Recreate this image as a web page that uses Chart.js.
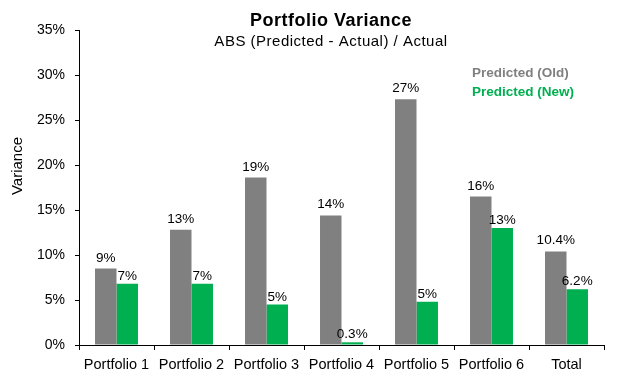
<!DOCTYPE html>
<html>
<head>
<meta charset="utf-8">
<script src="https://cdn.jsdelivr.net/npm/chart.js@4/dist/chart.umd.min.js"></script>
<style>
html,body{margin:0;padding:0;background:#fff;}
#wrap{width:619px;height:381px;}
</style>
</head>
<body>
<div id="wrap"><canvas id="c" width="619" height="381"></canvas></div>
<script>
const categories = ["Portfolio 1","Portfolio 2","Portfolio 3","Portfolio 4","Portfolio 5","Portfolio 6","Total"];
const oldValues = [8.5, 12.8, 18.6, 14.4, 27.3, 16.5, 10.4];
const newValues = [6.8, 6.8, 4.5, 0.3, 4.8, 13.0, 6.2];
const oldLabels = ["9%","13%","19%","14%","27%","16%","10.4%"];
const newLabels = ["7%","7%","5%","0.3%","5%","13%","6.2%"];
const yTicks = [0,5,10,15,20,25,30,35];
const titleText = "Portfolio Variance";
const subtitleText = "ABS (Predicted - Actual) / Actual";
const yTitleText = "Variance";
const seriesNames = ["Predicted (Old)","Predicted (New)"];

const GREY = "#808080", GREEN = "#00B050";
const FONT = "'Liberation Sans', Arial, sans-serif";

const overlay = {
  id: 'overlay',
  afterDatasetsDraw(chart) {
    const ctx = chart.ctx;
    ctx.save();
    ctx.font = "13.5px " + FONT;
    ctx.fillStyle = "#000";
    ctx.textAlign = "center";
    ctx.textBaseline = "alphabetic";
    const lbls = [oldLabels, newLabels];
    const gaps = [7, 4];
    chart.data.datasets.forEach((ds, di) => {
      const meta = chart.getDatasetMeta(di);
      meta.data.forEach((bar, i) => {
        ctx.fillText(lbls[di][i], bar.x, bar.y - gaps[di]);
      });
    });
    // title
    ctx.textBaseline = "middle";
    ctx.letterSpacing = "0.5px";
    ctx.font = "bold 18px " + FONT;
    ctx.fillText(titleText, 331, 21);
    ctx.font = "15px " + FONT;
    ctx.fillText(subtitleText, 331, 42);
    ctx.letterSpacing = "0px";
    // legend
    ctx.textAlign = "left";
    ctx.font = "bold 13.5px " + FONT;
    ctx.fillStyle = GREY;
    ctx.fillText(seriesNames[0], 472, 73);
    ctx.fillStyle = GREEN;
    ctx.fillText(seriesNames[1], 472, 92);
    // y axis title
    ctx.fillStyle = "#000";
    ctx.font = "15px " + FONT;
    ctx.translate(18, 166);
    ctx.rotate(-Math.PI / 2);
    ctx.textAlign = "center";
    ctx.fillText(yTitleText, 0, 0);
    ctx.restore();
  }
};

new Chart(document.getElementById('c'), {
  type: 'bar',
  data: {
    labels: categories,
    datasets: [
      {label: seriesNames[0], data: oldValues, backgroundColor: GREY, categoryPercentage: 0.573, barPercentage: 1.0},
      {label: seriesNames[1], data: newValues, backgroundColor: GREEN, categoryPercentage: 0.573, barPercentage: 1.0}
    ]
  },
  options: {
    responsive: false,
    animation: false,
    devicePixelRatio: 1,
    layout: {padding: {top: 30, right: 15, bottom: 0, left: 0}},
    plugins: {legend: {display: false}, title: {display: false}, tooltip: {enabled: false}},
    scales: {
      x: {
        offset: true,
        grid: {display: true, drawOnChartArea: false, offset: true, color: '#000', tickLength: 5, tickWidth: 1},
        border: {display: true, color: '#000', width: 1},
        ticks: {color: '#000', font: {family: FONT, size: 14.5}, padding: 6, maxRotation: 0, autoSkip: false},
        afterFit(s) { s.height = 36; }
      },
      y: {
        min: 0, max: 35,
        afterBuildTicks(s) { s.ticks = yTicks.map(v => ({value: v})); },
        grid: {display: true, drawOnChartArea: false, color: '#000', tickLength: 4},
        border: {display: true, color: '#000', width: 1},
        ticks: {color: '#000', font: {family: FONT, size: 14}, padding: 10, callback: v => v + '%'},
        afterFit(s) { s.width = 79; }
      }
    }
  },
  plugins: [overlay]
});
</script>
</body>
</html>
